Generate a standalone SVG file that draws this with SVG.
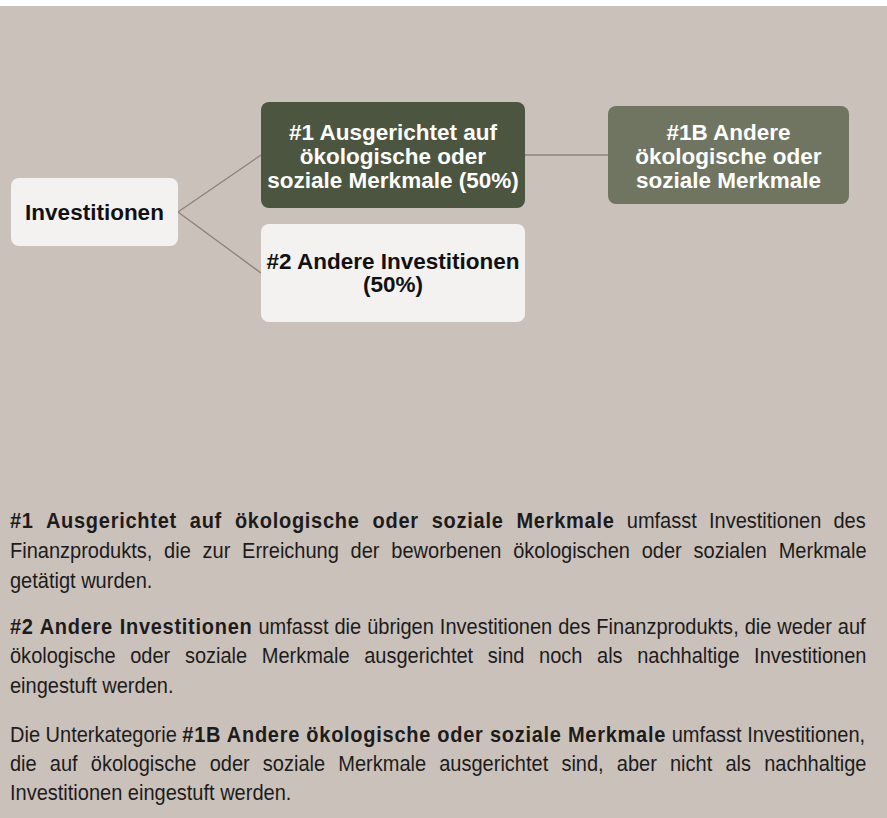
<svg xmlns="http://www.w3.org/2000/svg" width="887" height="818" viewBox="0 0 887 818">
<style>
.lbl{font-family:"Liberation Sans",Arial,sans-serif;font-weight:bold;font-size:22.5px;text-anchor:middle}
.w{fill:#ffffff}
.k{fill:#111111}
.light{fill:#f3f2f0}
.conn{stroke:#8e8078;stroke-width:1.3;fill:none}
.body{font-family:"Liberation Sans",Arial,sans-serif;font-size:22px;fill:#1c1c1c}
.b{font-weight:bold;letter-spacing:0.8px}
</style>
<rect x="0" y="0" width="887" height="818" fill="#ffffff"/>
<rect x="0" y="6" width="887" height="812" fill="#cbc1bb"/>
<g id="connectors">
<line class="conn" x1="178" y1="212" x2="261" y2="155"/>
<line class="conn" x1="178" y1="212" x2="261" y2="273"/>
<line class="conn" x1="525" y1="155" x2="608" y2="155"/>
</g>
<g id="node-investitionen">
<rect class="light" x="11" y="178" width="167" height="68" rx="8"/>
<text class="lbl k" x="94.5" y="220">Investitionen</text>
</g>
<g id="node-1">
<rect x="261" y="102" width="264" height="106" rx="8" fill="#4b553f"/>
<text class="lbl w" x="393" y="140">#1 Ausgerichtet auf</text>
<text class="lbl w" x="393" y="164">ökologische oder</text>
<text class="lbl w" x="393" y="188">soziale Merkmale (50%)</text>
</g>
<g id="node-2">
<rect class="light" x="261" y="224" width="264" height="98" rx="8"/>
<text class="lbl k" x="393" y="269">#2 Andere Investitionen</text>
<text class="lbl k" x="393" y="292">(50%)</text>
</g>
<g id="node-1b">
<rect x="608" y="106" width="241" height="98" rx="8" fill="#707562"/>
<text class="lbl w" x="728.5" y="140">#1B Andere</text>
<text class="lbl w" x="728.5" y="164">ökologische oder</text>
<text class="lbl w" x="728.5" y="188">soziale Merkmale</text>
</g>
<g id="description" transform="translate(10 0) scale(0.91 1)">
<text class="body" x="0" y="528" word-spacing="7.29"><tspan class="b">#1 Ausgerichtet auf ökologische oder soziale Merkmale</tspan> umfasst Investitionen des</text>
<text class="body" x="0" y="558" word-spacing="6.83">Finanzprodukts, die zur Erreichung der beworbenen ökologischen oder sozialen Merkmale</text>
<text class="body" x="0" y="588">getätigt wurden.</text>
<text class="body" x="0" y="634" word-spacing="0.46"><tspan class="b">#2 Andere Investitionen</tspan> umfasst die übrigen Investitionen des Finanzprodukts, die weder auf</text>
<text class="body" x="0" y="663.5" word-spacing="9.94">ökologische oder soziale Merkmale ausgerichtet sind noch als nachhaltige Investitionen</text>
<text class="body" x="0" y="693">eingestuft werden.</text>
<text class="body" x="0" y="742">Die Unterkategorie <tspan class="b">#1B Andere ökologische oder soziale Merkmale</tspan> umfasst Investitionen,</text>
<text class="body" x="0" y="771" word-spacing="8.36">die auf ökologische oder soziale Merkmale ausgerichtet sind, aber nicht als nachhaltige</text>
<text class="body" x="0" y="800">Investitionen eingestuft werden.</text>
</g>
</svg>
